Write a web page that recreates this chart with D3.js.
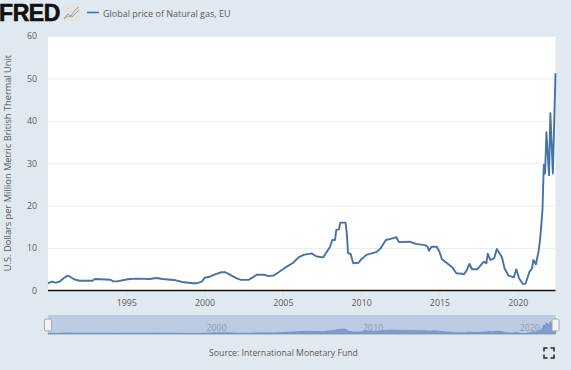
<!DOCTYPE html>
<html>
<head>
<meta charset="utf-8">
<script src="https://cdn.jsdelivr.net/npm/d3@7"></script>
<style>
html, body { margin: 0; padding: 0; background: #e1e9f0; overflow: hidden; }
text { font-family: "Open Sans", sans-serif; fill: #595959; }
</style>
</head>
<body>
<div id="chart"></div>
<script>
var dates = ['1990-01','1990-04','1990-07','1990-10','1991-01','1991-04','1991-06','1991-09','1992-01','1992-11','1993-01','1994-01','1994-03','1994-06','1995-02','1995-09','1996-07','1996-12','1997-05','1998-03','1998-08','1999-04','1999-07','1999-11','2000-01','2000-05','2000-10','2001-02','2001-05','2001-08','2002-02','2002-05','2002-11','2003-01','2003-05','2003-11','2004-02','2004-06','2004-10','2005-01','2005-05','2005-09','2006-01','2006-05','2006-11','2007-03','2007-08','2007-10','2008-01','2008-03','2008-05','2008-06','2008-08','2008-09','2009-01','2009-02','2009-03','2009-05','2009-07','2009-11','2010-01','2010-03','2010-05','2011-01','2011-04','2011-08','2012-01','2012-04','2012-06','2013-02','2013-07','2014-02','2014-04','2014-05','2014-07','2014-11','2015-01','2015-03','2015-07','2015-11','2016-02','2016-08','2016-10','2016-12','2017-02','2017-06','2017-11','2018-01','2018-02','2018-04','2018-07','2018-09','2019-01','2019-03','2019-06','2019-10','2019-12','2020-02','2020-05','2020-07','2020-10','2020-12','2021-01','2021-03','2021-05','2021-06','2021-07','2021-08','2021-09','2021-10','2021-11','2022-01','2022-02','2022-04','2022-06'];
var prices = [1.7,2.1,1.85,2.1,2.9,3.5,3.25,2.65,2.3,2.3,2.7,2.55,2.15,2.15,2.65,2.8,2.7,2.95,2.7,2.4,2.0,1.7,1.7,2.1,3.0,3.25,3.9,4.3,4.3,3.8,2.8,2.5,2.55,2.9,3.7,3.7,3.4,3.55,4.35,5.0,5.8,6.55,7.8,8.4,8.75,8.0,7.8,8.8,10.2,11.9,11.9,14.3,14.4,16.0,16.0,13.5,8.8,8.6,6.4,6.55,7.35,7.8,8.4,9.1,9.95,11.9,12.3,12.55,11.4,11.5,11.0,10.7,10.3,9.4,10.3,10.3,9.15,7.35,6.4,5.4,4.05,3.9,4.8,6.25,5.0,5.0,6.8,6.4,8.7,7.2,7.6,9.8,7.8,5.2,3.5,3.1,5.0,2.9,1.55,1.6,4.4,5.2,7.2,6.2,9.15,11.5,15,19,29.6,27.6,37.3,27.2,41.8,27.6,51.2];
var y_ticks = [0,10,20,30,40,50,60];
var x_ticks = [1995,2000,2005,2010,2015,2020];
var nav_ticks = [2000,2010,2020];

var width = 571, height = 370;
var parse_month = d3.utcParse('%Y-%m');
var chart_data = dates.map(function(d, i) {
  return { date: parse_month(d), price: prices[i] };
});

var svg = d3.select('#chart')
  .append('svg')
  .attr('width', width)
  .attr('height', height)
  .style('display', 'block');

var x = d3.scaleUtc()
  .domain([parse_month('1990-01'), parse_month('2022-06')])
  .range([48, 555.5]);

var y = d3.scaleLinear()
  .domain([0, 60])
  .range([290.5, 36]);

// main plot
svg.append('rect')
  .attr('x', 48)
  .attr('y', 36)
  .attr('width', 507.5)
  .attr('height', 254.5)
  .attr('fill', '#ffffff');

var y_axis = svg.append('g')
  .attr('transform', 'translate(48,0)')
  .call(d3.axisLeft(y).tickValues(y_ticks).tickSize(-507.5).tickPadding(11));
y_axis.select('.domain').remove();
y_axis.selectAll('line').attr('stroke', '#ececec').attr('stroke-width', 1);
y_axis.selectAll('text').style('font-size', '8.8px');

var x_axis = svg.append('g')
  .attr('transform', 'translate(0,290.5)')
  .call(d3.axisBottom(x)
    .tickValues(x_ticks.map(function(d) { return new Date(Date.UTC(d, 0, 1)); }))
    .tickFormat(d3.utcFormat('%Y'))
    .tickSize(7)
    .tickPadding(2));
x_axis.select('.domain').remove();
x_axis.selectAll('line').attr('stroke', '#d5dfe9');
x_axis.selectAll('text').style('font-size', '8.8px');

svg.append('line')
  .attr('x1', 48)
  .attr('x2', 555.5)
  .attr('y1', 290.5)
  .attr('y2', 290.5)
  .attr('stroke', '#111111')
  .attr('stroke-width', 1.6);

svg.append('path')
  .datum(chart_data)
  .attr('d', d3.line()
    .x(function(d) { return x(d.date); })
    .y(function(d) { return y(d.price); }))
  .attr('fill', 'none')
  .attr('stroke', '#4572a7')
  .attr('stroke-width', 1.9)
  .attr('stroke-linejoin', 'round');

svg.append('text')
  .attr('transform', 'translate(11,163)rotate(-90)')
  .attr('text-anchor', 'middle')
  .style('font-size', '9.25px')
  .text('U.S. Dollars per Million Metric British Thermal Unit');

// navigator strip
var y_nav = d3.scaleLinear()
  .domain([0, 60])
  .range([334, 316]);

svg.append('rect')
  .attr('x', 48)
  .attr('y', 315)
  .attr('width', 507.5)
  .attr('height', 19)
  .attr('fill', '#bccae2');

svg.append('path')
  .datum(chart_data)
  .attr('d', d3.area()
    .x(function(d) { return x(d.date); })
    .y0(334)
    .y1(function(d) { return y_nav(d.price); }))
  .attr('fill', '#7f9ccb')
  .attr('stroke', '#6f8fc2')
  .attr('stroke-width', 0.8);

svg.selectAll('.nav_label')
  .data(nav_ticks)
  .enter()
  .append('text')
  .attr('class', 'nav_label')
  .attr('x', function(d) { return x(new Date(Date.UTC(d, 0, 1))) + 12; })
  .attr('y', 331)
  .attr('text-anchor', 'middle')
  .style('font-size', '8.8px')
  .style('fill', '#8f9bb3')
  .text(function(d) { return d; });

svg.selectAll('.nav_handle')
  .data([48, 555.5])
  .enter()
  .append('rect')
  .attr('class', 'nav_handle')
  .attr('x', function(d) { return d - 3.5; })
  .attr('y', 319)
  .attr('width', 7)
  .attr('height', 12)
  .attr('rx', 1.5)
  .attr('fill', '#f2f2f2')
  .attr('stroke', '#a8a8a8');

// source and fullscreen corners
svg.append('text')
  .attr('x', 283.5)
  .attr('y', 356)
  .attr('text-anchor', 'middle')
  .style('font-size', '8.7px')
  .text('Source: International Monetary Fund');

var corners = [
  'M544 351.5V348H547.5', 'M550.5 348H554V351.5',
  'M544 354.5V358H547.5', 'M550.5 358H554V354.5'
];
svg.selectAll('.fs_corner')
  .data(corners)
  .enter()
  .append('path')
  .attr('class', 'fs_corner')
  .attr('d', function(d) { return d; })
  .attr('fill', 'none')
  .attr('stroke', '#222222')
  .attr('stroke-width', 1.5);

// header: logo and legend
svg.append('text')
  .attr('x', -1)
  .attr('y', 21)
  .style('font-family', '"Liberation Sans", sans-serif')
  .style('font-weight', 'bold')
  .style('font-size', '23px')
  .style('letter-spacing', '-0.4px')
  .style('stroke', '#111111')
  .style('stroke-width', '0.6px')
  .style('fill', '#111111')
  .text('FRED');

svg.append('rect')
  .attr('x', 63)
  .attr('y', 5)
  .attr('width', 17)
  .attr('height', 16)
  .attr('fill', '#e4e4e0');

svg.append('path')
  .attr('d', 'M64 18L68 14L71 16L75 10L79 7')
  .attr('fill', 'none')
  .attr('stroke', '#8aa6c0')
  .attr('stroke-width', 1);

svg.append('path')
  .attr('d', 'M64 19L68 16L72 17L76 13L79 10')
  .attr('fill', 'none')
  .attr('stroke', '#8fae6e')
  .attr('stroke-width', 1);

svg.append('line')
  .attr('x1', 87)
  .attr('x2', 99)
  .attr('y1', 12.5)
  .attr('y2', 12.5)
  .attr('stroke', '#4572a7')
  .attr('stroke-width', 1.6);

svg.append('text')
  .attr('x', 103)
  .attr('y', 16.5)
  .style('font-size', '9px')
  .style('font-weight', '500')
  .text('Global price of Natural gas, EU');
</script>
</body>
</html>
